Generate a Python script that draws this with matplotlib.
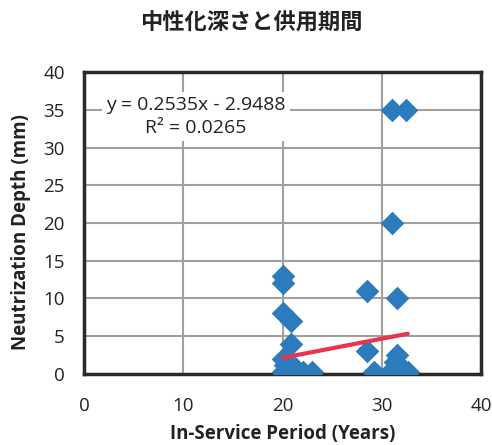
import numpy as np
import matplotlib.pyplot as plt

# In-service period (years) and neutralization depth (mm) per sample
period = [20.0, 20.0, 20.0, 20.8, 20.8, 20.0, 20.2, 20.0, 20.6, 21.2, 21.5, 22.0, 23.0,
          28.5, 28.5, 29.2,
          31.0, 32.4, 31.0, 31.5, 31.5, 31.3, 31.0, 31.5, 32.0, 32.6, 31.8]
depth = [13.0, 12.0, 8.0, 7.0, 4.0, 2.0, 1.2, 0.3, 0.3, 0.8, 0.2, 0.2, 0.2,
         11.0, 3.0, 0.2,
         35.0, 35.0, 20.0, 10.0, 2.5, 1.5, 0.5, 0.3, 0.2, 0.2, 1.0]

# Linear trend reported for the data
slope, intercept, r2 = 0.2535, -2.9488, 0.0265

plt.rcParams['font.family'] = ['Open Sans', 'DejaVu Sans']

fig = plt.figure(figsize=(4.92, 4.45), dpi=100)
ax = fig.add_axes([0.171, 0.160, 0.807, 0.678])

ax.scatter(period, depth, marker='D', s=145, color='#2b7bbd', zorder=3, linewidths=0)

xs = np.array([min(period), max(period)])
ax.plot(xs, slope * xs + intercept, color='#e8344e', lw=3, zorder=4, solid_capstyle='round')

ax.set_xlim(0, 40)
ax.set_ylim(0, 40)
ax.set_xticks(range(0, 41, 10))
ax.set_yticks(range(0, 41, 5))
ax.grid(True, color='#a0a0a0', lw=1.5)
ax.set_axisbelow(True)
ax.tick_params(length=0, labelsize=13.5, colors='#222222')
ax.tick_params(axis='y', pad=14)
ax.tick_params(axis='x', pad=17)
for s in ax.spines.values():
    s.set_color('#2a2a2a')
    s.set_linewidth(2.5)

# trendline equation box
eq = f'y = {slope}x - {abs(intercept)}\nR² = {r2}'
ax.text(0.282, 0.853, eq, transform=ax.transAxes, ha='center', va='center',
        multialignment='center', linespacing=1.35, fontsize=14, color='#222222',
        bbox=dict(facecolor='white', edgecolor='none', pad=3), zorder=5)

ax.set_xlabel('In-Service Period (Years)', fontsize=13.5, fontweight='bold', color='#222222', labelpad=6)
ax.set_ylabel('Neutrization Depth (mm)', fontsize=13.5, fontweight='bold', color='#222222', labelpad=6)
ax.yaxis.set_label_coords(-0.134, 0.47)
fig.text(0.51, 0.948, '中性化深さと供用期間', ha='center', va='center', fontsize=16,
         fontweight='bold', color='#222222', family=['Noto Sans CJK JP', 'DejaVu Sans'])

fig.savefig('out.png', dpi=100)
